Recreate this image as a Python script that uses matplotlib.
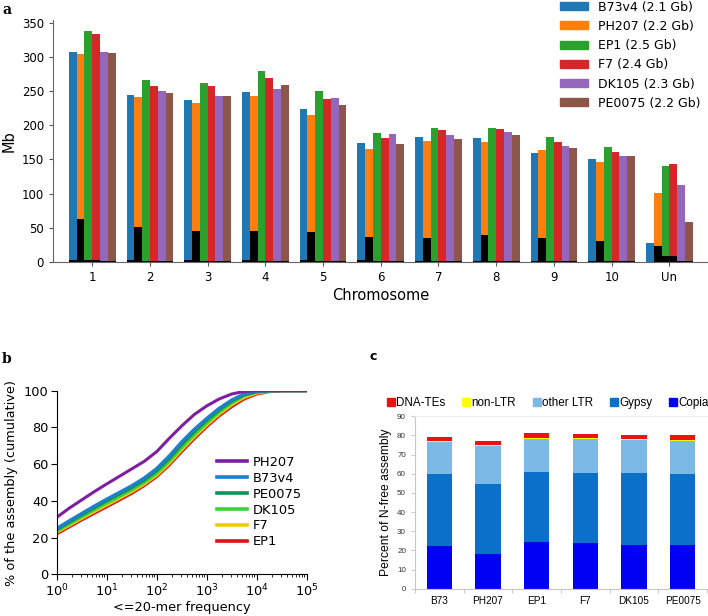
import numpy as np
import matplotlib
matplotlib.use("Agg")
from matplotlib import pyplot as plt
from matplotlib.patches import Patch
from matplotlib.lines import Line2D

# ---- panel a: chromosome sizes (Mb) ----
chromosomes = ['1', '2', '3', '4', '5', '6', '7', '8', '9', '10', 'Un']
genome_labels = ['B73v4 (2.1 Gb)', 'PH207 (2.2 Gb)', 'EP1 (2.5 Gb)',
                 'F7 (2.4 Gb)', 'DK105 (2.3 Gb)', 'PE0075 (2.2 Gb)']
b73_mb = [307.5, 245, 236.7, 248, 224.5, 174.7, 183, 181.5, 160, 151.3, 27.8]
ph207_mb = [303.6, 241.6, 233, 242.5, 215.7, 165.4, 176.7, 175.7, 164, 146, 101]
ep1_mb = [337.7, 266, 262, 278.7, 250.8, 189.4, 195.7, 196, 183, 168.4, 140.5]
f7_mb = [334, 257, 257, 269.4, 238, 181, 192.8, 195, 175, 161.5, 144]
dk105_mb = [307.5, 250, 243, 253, 240, 187, 186, 190, 170, 155, 112.7]
pe0075_mb = [305, 246.5, 243.5, 259.6, 229.4, 172.3, 180.6, 186.4, 167, 155, 58]
# gap (N) content per chromosome, drawn in black
b73_n = [3.5, 3.5, 2.5, 3.5, 2.5, 3.5, 2, 2, 2, 1.5, 0.5]
ph207_n = [62.5, 51, 46, 45, 44, 36, 35, 39.5, 35, 30, 23.5]
ep1_n = [3, 2, 1.5, 2, 1.5, 1.5, 1.5, 1.5, 1.5, 1.5, 9.3]
f7_n = [3, 2, 1.5, 2, 1.5, 1.5, 1.5, 1.5, 1.5, 1.5, 9.3]
dk105_n = [1.5, 1.5, 1.5, 1.5, 1.5, 1.5, 1.5, 1.5, 1.5, 1.5, 1]
pe0075_n = [1.5, 1.5, 1.5, 1.5, 1.5, 1.5, 1.5, 1.5, 1.5, 1.5, 1]

# ---- panel b: cumulative k-mer frequency (log10 frequency -> %) ----
log_freq = [0, 0.25, 0.5, 0.75, 1, 1.25, 1.5, 1.75, 2, 2.25, 2.5, 2.75,
            3, 3.25, 3.5, 3.75, 4, 4.25, 4.5, 5]
ph207_cum = [31, 36, 40.5, 45, 49.2, 53.3, 57.4, 61.5, 66.8, 74, 80.8, 87,
             91.7, 95.5, 98.2, 99.6, 100, 100, 100, 100]
b73_cum = [25, 29.2, 33.2, 37.2, 41, 44.6, 48.3, 52.5, 57.7, 64.5, 72.2, 79,
           85, 90.5, 95, 98.3, 99.6, 100, 100, 100]
pe0075_cum = [24.3, 28.3, 32.3, 36.2, 40, 43.6, 47.2, 51.3, 56.4, 63, 70.7, 77.6,
              83.8, 89.5, 94.3, 97.8, 99.4, 99.9, 100, 100]
dk105_cum = [23.5, 27.4, 31.3, 35.1, 38.8, 42.3, 46, 50, 55, 61.5, 69, 76,
             82.4, 88.3, 93.3, 97.2, 99.2, 99.8, 100, 100]
f7_cum = [22.8, 26.6, 30.4, 34.1, 37.7, 41.3, 45, 49.1, 54, 60.4, 67.8, 74.8,
          81.3, 87.2, 92.3, 96.3, 98.7, 99.7, 100, 100]
ep1_cum = [22, 25.8, 29.6, 33.2, 36.8, 40.4, 44.1, 48.3, 53.2, 59.5, 66.8, 73.8,
           80.4, 86.3, 91.3, 95.5, 98.2, 99.5, 100, 100]

# ---- panel c: TE composition (% of N-free assembly) ----
lines_c = ['B73', 'PH207', 'EP1', 'F7', 'DK105', 'PE0075']
copia = [22.5, 18.3, 24.5, 23.9, 22.8, 22.8]
gypsy = [37.2, 36.4, 36.6, 36.5, 37.4, 37.3]
other_ltr = [17.1, 19.6, 17.2, 17.6, 17.4, 17.2]
non_ltr = [0.5, 0.6, 0.6, 0.5, 0.6, 0.5]
dna_tes = [2.1, 2.2, 2.2, 2.1, 2.1, 2.3]

fig = plt.figure(figsize=(7.08, 6.16), dpi=100)

# ================= a =================
ax_a = fig.add_axes([53 / 708, 1 - 262 / 616, 655 / 708, 242 / 616])
sizes = [b73_mb, ph207_mb, ep1_mb, f7_mb, dk105_mb, pe0075_mb]
gaps = [b73_n, ph207_n, ep1_n, f7_n, dk105_n, pe0075_n]
colors_a = ['#1f77b4', '#ff7f0e', '#2ca02c', '#d62728', '#9467bd', '#8c564b']
x = np.arange(len(chromosomes))
w = 0.135
for k in range(6):
    pos = x + (k - 2.5) * w
    ax_a.bar(pos, sizes[k], width=w, color=colors_a[k], label=genome_labels[k])
    ax_a.bar(pos, gaps[k], width=w, color='black')
ax_a.set_xlim(-0.68, 10.67)
ax_a.set_ylim(0, 354)
ax_a.set_yticks(range(0, 351, 50))
ax_a.set_xticks(x)
ax_a.set_xticklabels(chromosomes)
ax_a.tick_params(labelsize=8.5, color='#555555', length=3)
ax_a.set_xlabel('Chromosome', fontsize=10.5, labelpad=3)
ax_a.set_ylabel('Mb', fontsize=10.5)
for s in ['top', 'right']:
    ax_a.spines[s].set_visible(False)
for s in ['left', 'bottom']:
    ax_a.spines[s].set_color('#666666')
handles_a = [Patch(color=c) for c in colors_a]
fig.legend(handles_a, genome_labels, loc='upper left',
           bbox_to_anchor=(560 / 708, 0.999), frameon=False, fontsize=9,
           borderpad=0, borderaxespad=0, handlelength=2.2, handleheight=0.6,
           handletextpad=0.85, labelspacing=0.5)
fig.text(0.003, 1 - 10 / 616, 'a', fontsize=10, fontweight='bold',
         family='DejaVu Serif', va='center')

# ================= b =================
ax_b = fig.add_axes([56.7 / 708, 1 - 574.3 / 616, 250 / 708, 183.6 / 616])
freq = 10 ** np.array(log_freq)
curves = [ph207_cum, b73_cum, pe0075_cum, dk105_cum, f7_cum, ep1_cum]
names_b = ['PH207', 'B73v4', 'PE0075', 'DK105', 'F7', 'EP1']
colors_b = ['#7d1fa0', '#1e7fd0', '#12915a', '#3cd23c', '#f2c80f', '#d81414']
for cum, c in zip(curves[::-1], colors_b[::-1]):
    ax_b.plot(freq, cum, color=c, lw=2.2)
ax_b.set_xscale('log')
ax_b.set_xlim(1, 1e5)
ax_b.set_ylim(0, 100)
ax_b.set_yticks(range(0, 101, 20))
for s in ['top', 'right']:
    ax_b.spines[s].set_visible(False)
ax_b.tick_params(labelsize=9.3, length=4, pad=2)
ax_b.tick_params(which='minor', length=2.5)
ax_b.set_xlabel('<=20-mer frequency', fontsize=9.3, labelpad=1)
ax_b.set_ylabel('% of the assembly (cumulative)', fontsize=9.3)
handles_b = [Line2D([], [], color=c, lw=2.6) for c in colors_b]
ax_b.legend(handles_b, names_b, loc='upper left', bbox_to_anchor=(217 / 708, 1 - 456 / 616),
            bbox_transform=fig.transFigure, frameon=False, fontsize=9.4,
            borderpad=0, borderaxespad=0, handlelength=2.3, handletextpad=0.45,
            labelspacing=0.22)
fig.text(0.003, 1 - 359 / 616, 'b', fontsize=10, fontweight='bold',
         family='DejaVu Serif', va='center')

# ================= c =================
ax_c = fig.add_axes([415 / 708, 1 - 588.7 / 616, 292 / 708, 172.4 / 616])
xc = np.arange(len(lines_c))
layers = [copia, gypsy, other_ltr, non_ltr, dna_tes]
names_c = ['Copia', 'Gypsy', 'other LTR', 'non-LTR', 'DNA-TEs']
colors_c = ['#0000f5', '#0a70c8', '#7db9e6', '#ffff00', '#ee1111']
bottom = np.zeros(len(lines_c))
for vals, c in zip(layers, colors_c):
    ax_c.bar(xc, vals, bottom=bottom, width=0.52, color=c)
    bottom += np.array(vals)
ax_c.set_xlim(-0.5, 5.5)
ax_c.set_ylim(0, 90)
ax_c.set_yticks(range(0, 91, 10))
ax_c.set_xticks(np.arange(-0.5, 6, 1))
ax_c.set_xticklabels([])
ax_c.set_xticks(xc, minor=True)
ax_c.set_xticklabels(lines_c, minor=True, family='Liberation Sans', fontsize=7.2)
ax_c.tick_params(axis='x', which='minor', length=0, pad=5)
ax_c.tick_params(axis='x', which='major', length=3, color='#cccccc')
ax_c.tick_params(axis='y', length=3, color='#cccccc', labelsize=5.8, labelcolor='#333333')
for lab in ax_c.get_yticklabels():
    lab.set_family('Liberation Sans')
for s in ['left', 'bottom']:
    ax_c.spines[s].set_color('#c8c8c8')
ax_c.spines['top'].set_color('#eeeeee')
ax_c.spines['right'].set_visible(False)
ax_c.set_ylabel('Percent of N-free assembly', fontsize=8.7, family='Liberation Sans')
handles_c = [Line2D([], [], marker='s', ls='', color=c, markersize=6) for c in colors_c[::-1]]
ax_c.legend(handles_c, names_c[::-1], loc='center left', ncol=5,
            bbox_to_anchor=(387 / 708, 1 - 403 / 616), bbox_transform=fig.transFigure,
            frameon=False, prop={'family': 'Liberation Sans', 'size': 8.4},
            borderpad=0, borderaxespad=0, handlelength=0.6, handletextpad=0.15,
            columnspacing=1.5)
fig.text(370 / 708, 1 - 357 / 616, 'c', fontsize=9, fontweight='bold', va='center')

fig.savefig('out.png', dpi=100)
